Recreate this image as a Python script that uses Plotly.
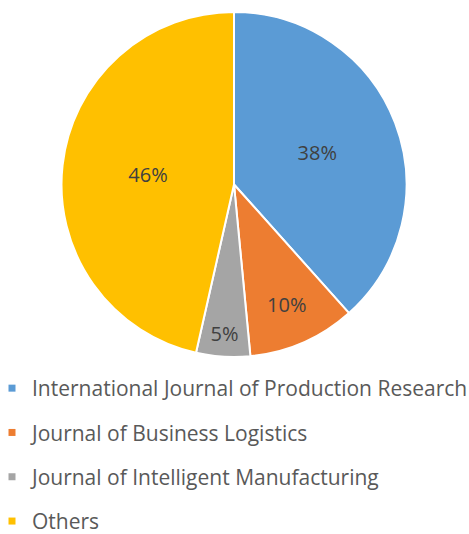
import plotly.graph_objects as go

labels = ["International Journal of Production Research", "Journal of Business Logistics",
          "Journal of Intelligent Manufacturing", "Others"]
values = [38, 10, 5, 46]
colors = ["#5B9BD5", "#ED7D31", "#A5A5A5", "#FFC000"]

W, H = 469, 534
cx, cy, r = 234, 184.5, 172.5

fig = go.Figure()
fig.add_trace(go.Pie(
    labels=labels, values=values, sort=False, direction="clockwise", rotation=0,
    marker=dict(colors=colors, line=dict(color="white", width=2)),
    texttemplate="%{value}%", textposition="inside", insidetextorientation="horizontal",
    textfont=dict(family="Open Sans", size=20, color="#404040"),
    showlegend=False, hoverinfo="label+value",
    domain=dict(x=[(cx - r) / W, (cx + r) / W], y=[(H - cy - r) / H, (H - cy + r) / H]),
))
for i, (lab, col) in enumerate(zip(labels, colors)):
    fig.add_trace(go.Scatter(x=[None], y=[None], mode="markers", name=lab,
                             legendgroup=str(i),
                             marker=dict(symbol="square", size=7, color=col)))

fig.update_layout(
    width=W, height=H, margin=dict(l=0, r=0, t=0, b=0, autoexpand=False),
    paper_bgcolor="white", plot_bgcolor="white",
    xaxis=dict(visible=False), yaxis=dict(visible=False),
    legend=dict(x=-8 / W, xanchor="left", y=(H - 368) / H, yanchor="top",
                font=dict(family="Open Sans", size=21, color="#595959"),
                tracegroupgap=14, bgcolor="rgba(0,0,0,0)"),
)
fig.write_html("out.html")
